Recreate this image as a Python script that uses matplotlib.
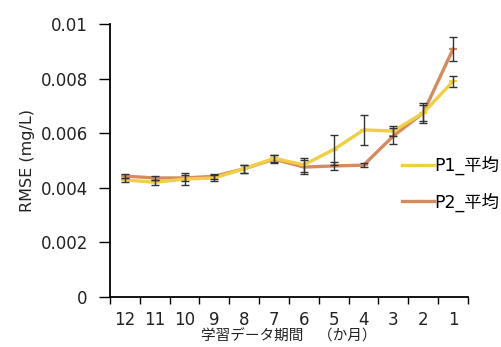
import numpy as np
import matplotlib.pyplot as plt

plt.rcParams['font.family'] = ['Noto Sans CJK JP', 'DejaVu Sans']

# training period (months), plotted from 12 down to 1
months = ['12', '11', '10', '9', '8', '7', '6', '5', '4', '3', '2', '1']

p1_mean = [0.00429, 0.00420, 0.00432, 0.00436, 0.00470, 0.00508, 0.00484, 0.00540, 0.00612, 0.00608, 0.00674, 0.00790]
p1_err = [0.00008, 0.00008, 0.00022, 0.00010, 0.00015, 0.00012, 0.00025, 0.00055, 0.00055, 0.00020, 0.00030, 0.00020]

p2_mean = [0.00443, 0.00436, 0.00436, 0.00442, 0.00470, 0.00505, 0.00476, 0.00480, 0.00483, 0.00590, 0.00674, 0.00908]
p2_err = [0.00008, 0.00008, 0.00010, 0.00010, 0.00015, 0.00015, 0.00025, 0.00015, 0.00008, 0.00030, 0.00035, 0.00045]

c1 = '#F0D040'
c2 = '#D68A60'
txt = '#222222'
latin_first = ['DejaVu Sans', 'Noto Sans CJK JP']

fig = plt.figure(figsize=(5.01, 3.47), dpi=100)
ax = fig.add_axes([0.2196, 0.1441, 0.7144, 0.7867])

x = np.arange(len(months))
ax.plot(x, p1_mean, color=c1, lw=2.4, marker='_', ms=6, mew=1.5, label='P1_平均', zorder=3)
ax.plot(x, p2_mean, color=c2, lw=2.4, marker='_', ms=6, mew=1.5, label='P2_平均', zorder=2)
ax.errorbar(x, p1_mean, yerr=p1_err, fmt='none', ecolor='#333333', elinewidth=1,
            capsize=3, capthick=1, zorder=4)
ax.errorbar(x, p2_mean, yerr=p2_err, fmt='none', ecolor='#333333', elinewidth=1,
            capsize=3, capthick=1, zorder=4)

ax.set_xlim(-0.5, len(months) - 0.5)
ax.set_ylim(0, 0.01)
ax.set_yticks([0, 0.002, 0.004, 0.006, 0.008, 0.01])
ax.set_yticklabels(['0', '0.002', '0.004', '0.006', '0.008', '0.01'],
                   family=latin_first, fontsize=12, color=txt)

# ticks sit between categories, labels centred under each point
ax.set_xticks(np.arange(len(months) + 1) - 0.5)
ax.set_xticklabels([])
ax.set_xticks(x, minor=True)
ax.set_xticklabels(months, minor=True, family=latin_first, fontsize=12, color=txt)
ax.tick_params(axis='x', which='minor', length=0, pad=10)
ax.tick_params(axis='x', which='major', length=5, width=1)
ax.tick_params(axis='y', length=8, width=1, pad=8)

for s in ['top', 'right']:
    ax.spines[s].set_visible(False)
for s in ['left', 'bottom']:
    ax.spines[s].set_linewidth(1.3)

ax.set_ylabel('RMSE (mg/L)', family=latin_first, fontsize=11.5, labelpad=4, color=txt)
ax.set_xlabel('学習データ期間　（か月）', fontsize=10.5, labelpad=0, color=txt)

ax.legend(loc='center left', bbox_to_anchor=(0.772, 0.471), bbox_transform=fig.transFigure,
          frameon=False, prop={'family': latin_first, 'size': 12.5},
          handlelength=1.8, handletextpad=0.05, labelspacing=1.0)

fig.savefig('out.png', dpi=100)
